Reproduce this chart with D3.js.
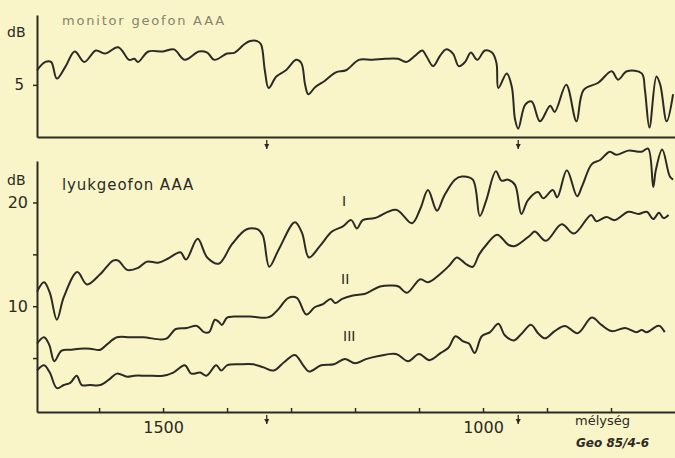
<!DOCTYPE html>
<html>
<head>
<meta charset="utf-8">
<script src="https://cdn.jsdelivr.net/npm/d3@7"></script>
<style>
  body { margin: 0; background: #f9f5c8; }
  svg text { font-family: "DejaVu Sans", sans-serif; fill: #2b2a24; }
</style>
</head>
<body>
<div id="chart"></div>
<script>
// depth (m) / level (dB) pairs, deepest first
var monitor = [[1697,6.4],[1684,7.2],[1675,7.2],[1666,5.6],[1653,6.7],[1638,8.2],[1623,7.2],[1605,8.3],[1591,8.0],[1570,8.6],[1553,7.4],[1545,7.5],[1539,7.2],[1523,8.2],[1500,8.2],[1483,8.4],[1466,7.4],[1444,8.2],[1431,8.1],[1420,7.4],[1400,8.0],[1388,8.1],[1373,8.9],[1364,9.2],[1353,9.2],[1347,8.9],[1341,6.4],[1335,4.7],[1323,5.8],[1308,6.4],[1292,7.4],[1284,7.1],[1278,5.0],[1273,4.1],[1262,4.8],[1247,5.4],[1230,6.2],[1214,6.4],[1194,7.4],[1173,7.4],[1153,7.5],[1133,7.5],[1120,7.2],[1106,7.8],[1095,8.3],[1088,7.7],[1078,6.8],[1067,7.8],[1058,8.4],[1047,8.0],[1038,6.8],[1028,7.2],[1019,8.1],[1009,7.4],[997,8.3],[986,8.1],[979,7.1],[976,4.7],[963,6.1],[955,4.8],[950,1.7],[945,0.8],[934,3.1],[924,3.4],[911,1.5],[895,3.0],[888,2.4],[870,5.0],[854,1.5],[843,4.5],[820,5.2],[799,6.3],[789,5.5],[775,6.3],[752,6.1],[747,4.5],[740,0.9],[729,5.8],[723,5.0],[713,1.5],[703,4.1]];

var curveI = [[1697,11.4],[1686,12.3],[1677,11.3],[1666,8.7],[1655,10.9],[1634,13.3],[1619,12.1],[1598,13.1],[1578,14.4],[1570,14.4],[1556,13.5],[1539,13.7],[1525,14.3],[1508,14.2],[1492,14.6],[1473,15.2],[1464,14.5],[1446,16.5],[1431,14.7],[1413,14.1],[1392,16.0],[1370,17.4],[1352,17.4],[1344,16.8],[1334,13.8],[1319,15.5],[1294,18.1],[1283,17.1],[1272,14.7],[1255,15.8],[1236,17.2],[1219,17.7],[1206,18.3],[1197,17.5],[1188,18.3],[1169,18.5],[1136,19.3],[1111,18.0],[1098,19.4],[1086,21.2],[1072,19.2],[1061,20.6],[1044,22.2],[1033,22.5],[1016,22.2],[1005,18.7],[995,20.2],[980,23.0],[971,22.1],[961,22.2],[950,21.7],[940,18.9],[930,20.2],[914,21.0],[906,20.4],[891,21.2],[884,20.5],[869,23.1],[853,20.6],[845,21.6],[830,23.7],[817,24.1],[802,24.9],[792,24.6],[773,25.0],[752,24.9],[742,25.2],[734,21.5],[730,23.1],[720,25.1],[708,22.5],[703,22.2]];

var curveII = [[1697,6.4],[1686,7.0],[1678,6.3],[1670,4.7],[1659,5.7],[1645,5.8],[1630,5.9],[1614,5.9],[1598,5.8],[1588,6.3],[1572,7.0],[1552,7.0],[1531,7.0],[1503,6.8],[1494,6.9],[1480,7.8],[1463,7.9],[1447,8.1],[1436,7.5],[1428,7.5],[1419,8.7],[1413,8.5],[1408,8.2],[1400,8.9],[1389,9.0],[1364,9.0],[1338,8.9],[1330,9.1],[1320,9.7],[1304,10.8],[1291,10.8],[1276,9.2],[1263,9.9],[1250,10.2],[1238,10.7],[1231,10.3],[1220,10.7],[1205,11.0],[1184,11.2],[1177,11.4],[1161,11.9],[1141,12.0],[1132,11.9],[1119,11.3],[1098,12.6],[1086,12.3],[1067,13.1],[1053,13.9],[1041,14.7],[1033,14.4],[1025,14.0],[1016,13.8],[1006,15.0],[995,15.9],[978,16.9],[960,15.9],[950,15.8],[927,16.8],[919,17.2],[902,16.3],[877,17.9],[858,17.0],[831,18.8],[823,18.2],[807,18.6],[794,18.3],[773,19.1],[757,18.9],[744,19.1],[734,18.4],[725,19.0],[718,18.5],[710,18.8]];

var curveIII = [[1697,3.8],[1686,4.3],[1677,3.6],[1666,2.1],[1655,2.4],[1645,2.6],[1635,3.3],[1627,2.4],[1614,2.4],[1598,2.4],[1583,3.0],[1572,3.5],[1556,3.2],[1545,3.3],[1525,3.3],[1500,3.3],[1484,3.6],[1466,4.3],[1456,3.5],[1442,3.6],[1432,3.3],[1417,4.3],[1409,3.8],[1400,4.3],[1380,4.4],[1359,4.4],[1343,4.1],[1327,3.8],[1311,4.6],[1294,5.3],[1281,4.3],[1272,3.7],[1253,4.3],[1233,4.4],[1216,4.9],[1200,4.5],[1183,4.9],[1163,5.2],[1136,5.4],[1117,4.7],[1100,5.4],[1084,4.8],[1066,5.5],[1054,6.0],[1043,7.1],[1031,6.6],[1022,6.4],[1013,5.5],[1002,7.1],[989,7.5],[976,8.3],[966,7.2],[952,6.7],[939,7.4],[925,8.2],[914,7.4],[903,6.9],[888,7.6],[872,8.1],[852,7.4],[830,8.9],[815,8.2],[799,7.6],[778,7.9],[761,7.5],[752,7.7],[744,7.5],[728,8.1],[724,8.1],[716,7.5]];

var depthTicks = [1600,1500,1400,1300,1200,1100,1000,900,800];
var depthLabels = [1500,1000];
var topTicks = [5];
var botTicks = [5,10,15,20];
var botLabels = [10,20];
var markDepths = [1338,945];   // the little arrows under the axes

var w = 675, h = 458;
var ink = "#2b2a24";

var svg = d3.select("#chart").append("svg").attr("width", w).attr("height", h);
svg.append("rect").attr("width", w).attr("height", h).attr("fill", "#f9f5c8");

var x = d3.scaleLinear().domain([1697, 700]).range([37, 675]);
var yTop = d3.scaleLinear().domain([0, 11.7]).range([137, 15]);
var yBot = d3.scaleLinear().domain([-0.2, 24]).range([412, 161]);

function lineFor(y) {
  return d3.line()
    .x(function(d){ return x(d[0]); })
    .y(function(d){ return y(d[1]); })
    .curve(d3.curveCatmullRom.alpha(0.5));
}

//////// top panel: monitor geofon
var gTopX = svg.append("g").attr("transform", "translate(0," + yTop(0) + ")")
  .call(d3.axisBottom(x).tickValues([]).tickSizeOuter(0));
var gTopY = svg.append("g").attr("transform", "translate(" + x(1697) + ",0)")
  .call(d3.axisLeft(yTop).tickValues(topTicks).tickSize(4).tickPadding(9).tickSizeOuter(0));

//////// bottom panel: lyukgeofon
var gBotX = svg.append("g").attr("transform", "translate(0," + yBot(-0.2) + ")")
  .call(d3.axisBottom(x).tickValues(depthTicks).tickSize(-4).tickPadding(10).tickSizeOuter(0)
    .tickFormat(function(d){ return depthLabels.indexOf(d) >= 0 ? d : ""; }));
var gBotY = svg.append("g").attr("transform", "translate(" + x(1697) + ",0)")
  .call(d3.axisLeft(yBot).tickValues(botTicks).tickSize(4).tickPadding(5).tickSizeOuter(0)
    .tickFormat(function(d){ return botLabels.indexOf(d) >= 0 ? d : ""; }));

[gTopX, gTopY, gBotX, gBotY].forEach(function(g){
  g.select(".domain").attr("stroke", ink).attr("stroke-width", 2);
  g.selectAll(".tick line").attr("stroke", ink).attr("stroke-width", 1.5);
  g.selectAll(".tick text").attr("fill", ink).style("font-size", "16px")
    .style("font-family", "'DejaVu Sans', sans-serif");
});
gTopY.selectAll(".tick text").style("font-size", "15px");

// curves
[[monitor, yTop], [curveI, yBot], [curveII, yBot], [curveIII, yBot]].forEach(function(s){
  svg.append("path").datum(s[0])
    .attr("d", lineFor(s[1]))
    .attr("fill", "none")
    .attr("stroke", ink)
    .attr("stroke-width", 2)
    .attr("stroke-linejoin", "round");
});

// depth markers (small down arrows)
[yTop(0), yBot(-0.2)].forEach(function(y0){
  markDepths.forEach(function(dp){
    var cx = x(dp);
    svg.append("path")
      .attr("d", "M" + cx + "," + (y0 + 3) + "V" + (y0 + 12))
      .attr("stroke", ink).attr("stroke-width", 1.3);
    svg.append("path")
      .attr("d", "M" + (cx - 2.5) + "," + (y0 + 7) + "L" + (cx + 2.5) + "," + (y0 + 7) + "L" + cx + "," + (y0 + 12) + "Z")
      .attr("fill", ink);
  });
});

// labels
svg.append("text").attr("x", 7).attr("y", 37).style("font-size", "14px").text("dB");
svg.append("text").attr("x", 62).attr("y", 25).style("font-size", "13px")
  .style("letter-spacing", "1.8px").style("fill", "#85836f").text("monitor geofon AAA");
svg.append("text").attr("x", 7).attr("y", 185).style("font-size", "14px").text("dB");
svg.append("text").attr("x", 62).attr("y", 190).style("font-size", "15px")
  .style("letter-spacing", "0.9px").text("lyukgeofon AAA");

svg.append("text").attr("x", 342).attr("y", 206).style("font-size", "14px").text("I");
svg.append("text").attr("x", 341).attr("y", 284).style("font-size", "14px").text("II");
svg.append("text").attr("x", 343).attr("y", 341).style("font-size", "14px").text("III");

svg.append("text").attr("x", 575).attr("y", 425).style("font-size", "13px").text("mélység");
svg.append("text").attr("x", 576).attr("y", 447).style("font-size", "12px")
  .style("font-weight", "bold").style("font-style", "italic").text("Geo 85/4-6");
</script>
</body>
</html>
